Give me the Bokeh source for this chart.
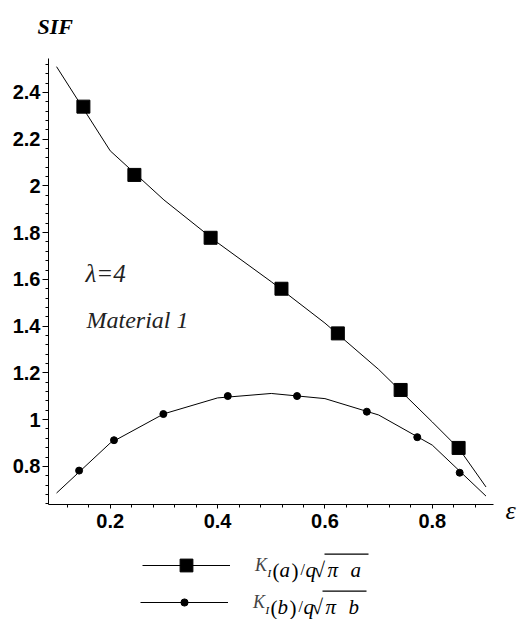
from bokeh.plotting import figure
from bokeh.models import Range1d, FixedTicker, Label, Legend, LegendItem, BoxAnnotation
from bokeh.embed import file_html
from bokeh.resources import INLINE

# ---- data -------------------------------------------------------------
# curves (epsilon vs normalised stress intensity factor)
EPS_LINE = [0.1, 0.2, 0.3, 0.4, 0.5, 0.6, 0.7, 0.8, 0.85, 0.9]
KA_LINE = [2.51, 2.15, 1.94, 1.757, 1.59, 1.413, 1.215, 0.99, 0.875, 0.712]
KB_LINE = [0.686, 0.90, 1.025, 1.093, 1.112, 1.09, 1.02, 0.891, 0.782, 0.673]

# marked points on each curve
EPS_A_MARK = [0.150, 0.245, 0.387, 0.519, 0.624, 0.741, 0.849]
KA_MARK = [2.339, 2.047, 1.778, 1.560, 1.369, 1.127, 0.879]
EPS_B_MARK = [0.142, 0.207, 0.299, 0.419, 0.548, 0.678, 0.772, 0.851]
KB_MARK = [0.782, 0.912, 1.024, 1.101, 1.101, 1.034, 0.925, 0.773]

X_TICK_LABELS = ["0.2", "0.4", "0.6", "0.8"]
Y_TICK_LABELS = ["0.8", "1", "1.2", "1.4", "1.6", "1.8", "2", "2.2", "2.4"]

# ---- layout -----------------------------------------------------------
W, H = 521, 619
# pixel box occupied by the two axes
AX_LEFT, AX_RIGHT, AX_TOP, AX_BOTTOM = 48, 493, 58, 504
X_LO, X_HI = 0.085, 0.914
Y_LO, Y_HI = 0.637, 2.545
SERIF = "Liberation Serif"
SANS = "Liberation Sans"

# the plotting area spans the whole canvas; the axes sit at fixed positions
# inside it so that titles and the key below can share the same canvas
xs = (AX_RIGHT - AX_LEFT) / (X_HI - X_LO)
ys = (AX_BOTTOM - AX_TOP) / (Y_HI - Y_LO)
x_range = Range1d(X_LO - AX_LEFT / xs, X_HI + (W - AX_RIGHT) / xs)
y_range = Range1d(Y_LO - (H - AX_BOTTOM) / ys, Y_HI + AX_TOP / ys)

p = figure(
    width=W, height=H, x_range=x_range, y_range=y_range,
    output_backend="svg", toolbar_location=None, min_border=0,
)
p.outline_line_color = None
p.background_fill_color = "white"
p.border_fill_color = "white"
p.xgrid.visible = False
p.ygrid.visible = False


def minor_steps(lo, hi, step):
    out, v = [], lo
    while v <= hi + 1e-9:
        out.append(round(v, 4))
        v += step
    return out


x_ticks = [float(s) for s in X_TICK_LABELS]
y_ticks = [float(s) for s in Y_TICK_LABELS]
p.xaxis.ticker = FixedTicker(ticks=x_ticks, minor_ticks=minor_steps(0.12, 0.88, 0.04))
p.yaxis.ticker = FixedTicker(ticks=y_ticks, minor_ticks=minor_steps(0.64, 2.52, 0.04))
p.xaxis.major_label_overrides = dict(zip(x_ticks, X_TICK_LABELS))
p.yaxis.major_label_overrides = dict(zip(y_ticks, Y_TICK_LABELS))
p.xaxis.fixed_location = Y_LO
p.yaxis.fixed_location = X_LO
p.xaxis.bounds = (X_LO, X_HI)
p.yaxis.bounds = (Y_LO, Y_HI)

for ax in (p.xaxis[0], p.yaxis[0]):
    ax.axis_line_color = "black"
    ax.axis_line_width = 1
    ax.major_tick_line_color = "black"
    ax.minor_tick_line_color = "black"
    ax.major_tick_in = 0
    ax.minor_tick_in = 0
    ax.minor_tick_out = 3
    ax.major_label_text_font = SANS
    ax.major_label_text_font_style = "bold"
    ax.major_label_text_font_size = "20px"
    ax.major_label_text_color = "black"
p.yaxis.major_tick_out = 6
p.yaxis.major_label_standoff = 2
p.xaxis.major_tick_out = 4
p.xaxis.major_label_standoff = 5

# ---- curves -----------------------------------------------------------
line_a = p.line(EPS_LINE, KA_LINE, line_color="black", line_width=1)
mark_a = p.scatter(EPS_A_MARK, KA_MARK, marker="square", size=13,
                   fill_color="black", line_color="black")
line_b = p.line(EPS_LINE, KB_LINE, line_color="black", line_width=1)
mark_b = p.scatter(EPS_B_MARK, KB_MARK, marker="circle", size=7,
                   fill_color="black", line_color="black")


# ---- text helpers (canvas pixel positions, y measured from the top) ---
def put_text(sx, baseline, text, size, style="italic", font=SERIF, color="black"):
    p.add_layout(Label(
        x=sx, y=H - baseline, x_units="screen", y_units="screen", text=text,
        text_font=font, text_font_style=style, text_font_size=f"{size}px",
        text_color=color, text_align="left", text_baseline="alphabetic",
    ))


put_text(37, 26, "SIF", 22, style="bold italic")
put_text(85, 273, "λ=4", 25, color="#222222")
put_text(86, 319, "Material 1", 24, color="#222222")
put_text(505, 510, "ε", 26)

# ---- key below the axes -----------------------------------------------
ROW_A, ROW_B = 565, 602          # vertical centre of each key row
common = dict(padding=0, spacing=0, margin=0, glyph_width=88,
              border_line_color=None, background_fill_alpha=0,
              label_standoff=25, label_text_font=SERIF,
              label_text_font_style="italic", label_text_font_size="18px")
leg_a = Legend(items=[LegendItem(label="K", renderers=[line_a, mark_a])],
               location=(142, H - (ROW_A + 16)), glyph_height=32, label_height=32, **common)
leg_b = Legend(items=[LegendItem(label="K", renderers=[line_b, mark_b])],
               location=(140, H - (ROW_B + 11)), glyph_height=22, label_height=22, **common)
leg_b.glyph_height = 18
p.add_layout(leg_a)
p.add_layout(leg_b)


def formula_tail(dx, base, arg):
    put_text(267 + dx, base + 3, "I", 11)
    put_text(272 + dx, base + 1, "(", 21, style="normal")
    put_text(279 + dx, base, arg, 21)
    put_text(291 + dx, base + 1, ")", 21, style="normal")
    put_text(300 + dx, base, "/", 16, style="normal")
    put_text(305 + dx, base, "q", 21)
    put_text(313 + dx, base, "√", 21, style="normal")
    put_text(327 + dx, base, "π", 21)
    put_text(350 + dx, base, arg, 21)
    # radical bar over the argument
    p.add_layout(BoxAnnotation(
        left=324 + dx, right=368 + dx,
        top=H - (base - 16), bottom=H - (base - 14.8),
        left_units="screen", right_units="screen",
        top_units="screen", bottom_units="screen",
        fill_color="black", fill_alpha=1, line_color=None,
    ))


formula_tail(0, ROW_A + 4, "a")
formula_tail(-2, ROW_B + 4, "b")

open("out.html", "w").write(file_html(p, INLINE))
